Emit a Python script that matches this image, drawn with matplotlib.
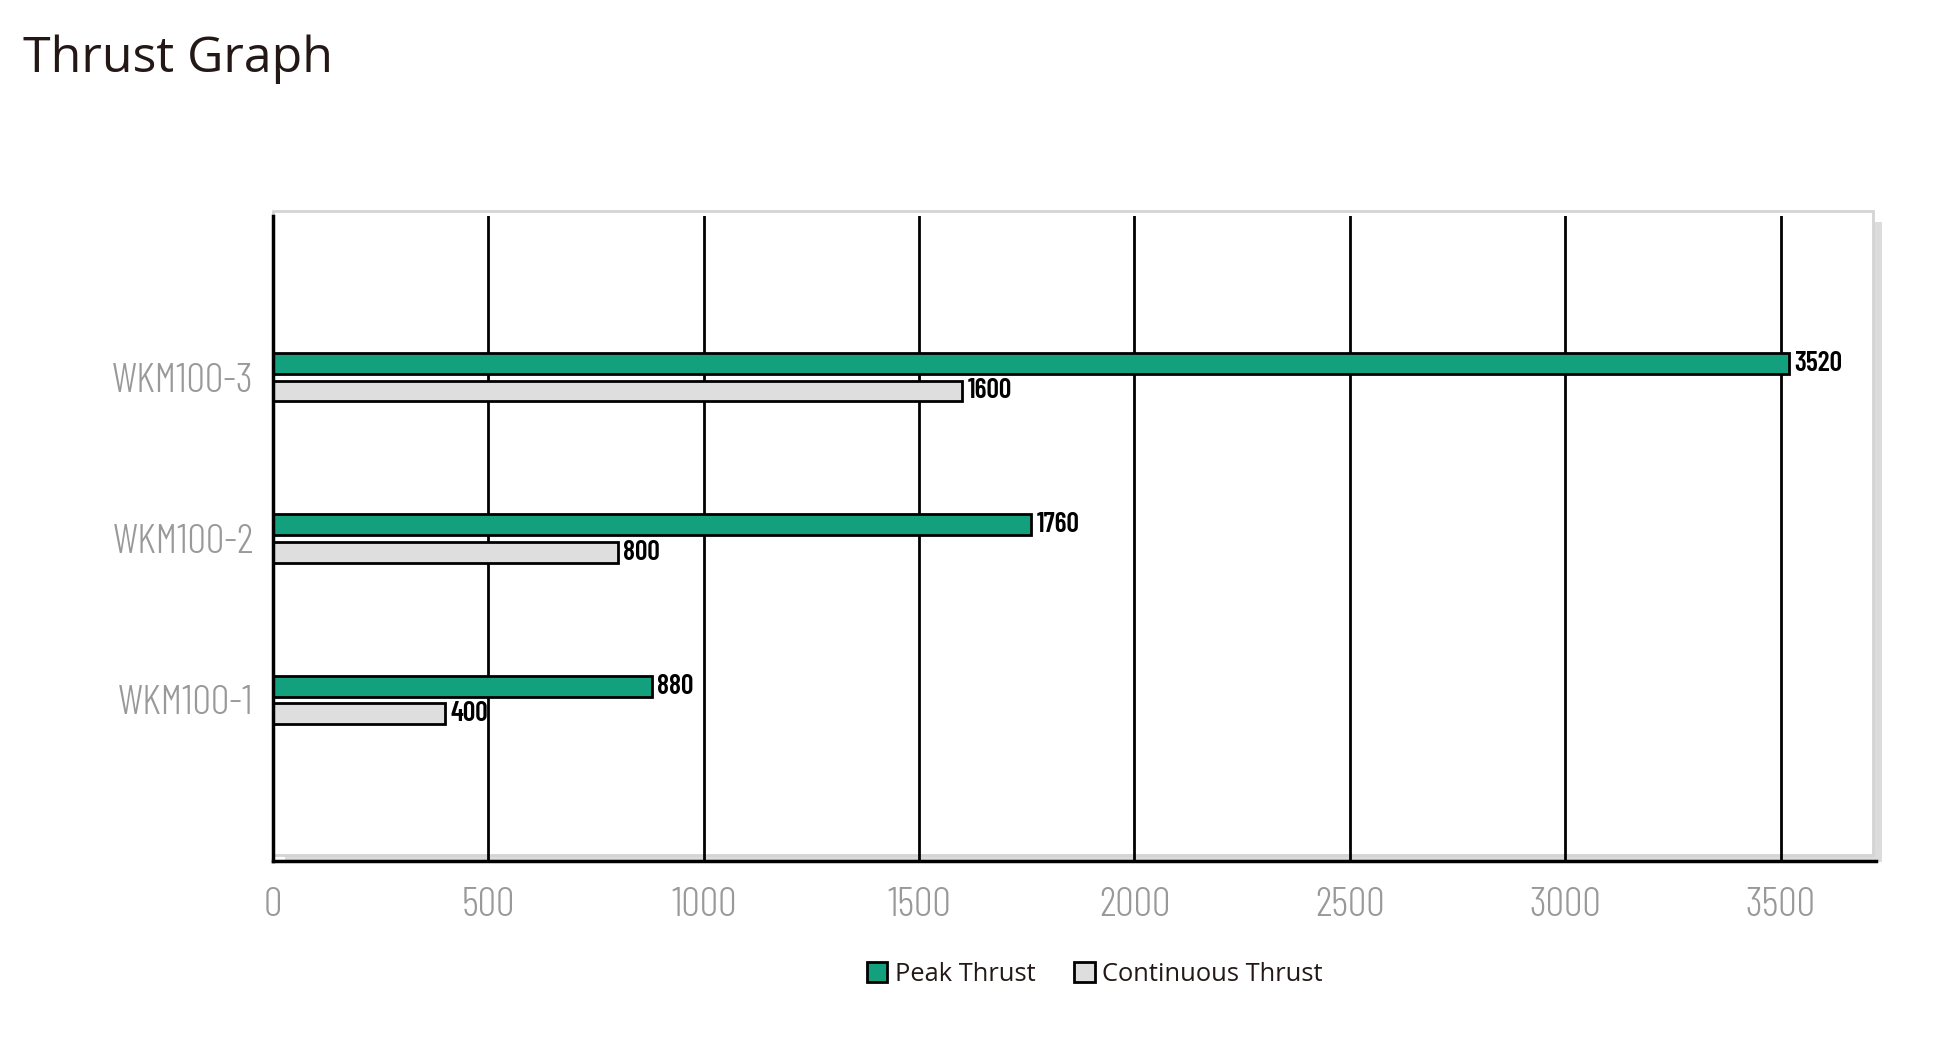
import numpy as np
import matplotlib.pyplot as plt
from matplotlib.patches import Rectangle, Patch

models = ['WKM100-1', 'WKM100-2', 'WKM100-3']
peak_thrust = [880, 1760, 3520]
continuous_thrust = [400, 800, 1600]
x_ticks = [0, 500, 1000, 1500, 2000, 2500, 3000, 3500]

green = '#13a07d'
light = '#dedede'
narrow = ['Barlow Condensed', 'DejaVu Sans']

fig = plt.figure(figsize=(19.57, 10.60), dpi=100)
ax = fig.add_axes([0.1395, 0.1877, 0.819, 0.6085])
ax.set_facecolor('none')

# frame with drop shadow behind the plot
ax.add_patch(Rectangle((0.0075, -0.002), 0.9965, 0.992, transform=ax.transAxes,
                       facecolor='#dcdcdc', edgecolor='none', zorder=0, clip_on=False))
ax.add_patch(Rectangle((0, 0.009), 0.998, 0.999, transform=ax.transAxes,
                       facecolor='white', edgecolor='#d4d4d4', linewidth=2, zorder=0.5, clip_on=False))

y = np.arange(len(models))
h = 0.13
ax.barh(y + 0.085, peak_thrust, height=h, color=green, edgecolor='black', linewidth=2, zorder=3)
ax.barh(y - 0.085, continuous_thrust, height=h, color=light, edgecolor='black', linewidth=2, zorder=3)

for i in range(len(models)):
    ax.text(peak_thrust[i] + 12, y[i] + 0.085, str(peak_thrust[i]), va='center', ha='left',
            fontsize=20, fontweight=600, family=narrow, color='black', zorder=4)
    ax.text(continuous_thrust[i] + 12, y[i] - 0.085, str(continuous_thrust[i]), va='center', ha='left',
            fontsize=20, fontweight=600, family=narrow, color='black', zorder=4)

ax.set_xlim(0, 3721)
ax.set_ylim(-1, 3)
ax.set_xticks(x_ticks)
ax.set_xticklabels([str(v) for v in x_ticks], family=narrow, fontsize=30, fontweight=300, color='#999999')
ax.set_yticks(y)
ax.set_yticklabels(models, family=narrow, fontsize=30, fontweight=300, color='#999999')
ax.tick_params(axis='x', length=0, pad=19)
ax.tick_params(axis='y', length=0, pad=14)
ax.grid(axis='x', color='black', linewidth=2, zorder=1)
ax.set_axisbelow(False)
for s in ['top', 'right']:
    ax.spines[s].set_visible(False)
for s in ['left', 'bottom']:
    ax.spines[s].set_color('black')
    ax.spines[s].set_linewidth(2.5)
    ax.spines[s].set_zorder(5)

fig.text(0.0115, 0.944, 'Thrust Graph', fontsize=36, family=['Open Sans', 'DejaVu Sans'],
         color='#231815', va='center', ha='left')

handles = [Patch(facecolor=green, edgecolor='black', linewidth=2, label='Peak Thrust'),
           Patch(facecolor=light, edgecolor='black', linewidth=2, label='Continuous Thrust')]
fig.legend(handles=handles, loc='center', bbox_to_anchor=(0.5595, 0.081), ncol=2, frameon=False,
           prop={'family': ['Open Sans', 'DejaVu Sans'], 'size': 18.4},
           handlelength=0.8, handleheight=0.8, handletextpad=0.3, columnspacing=1.5, labelcolor='#231815')

fig.savefig('out.png', dpi=100)
